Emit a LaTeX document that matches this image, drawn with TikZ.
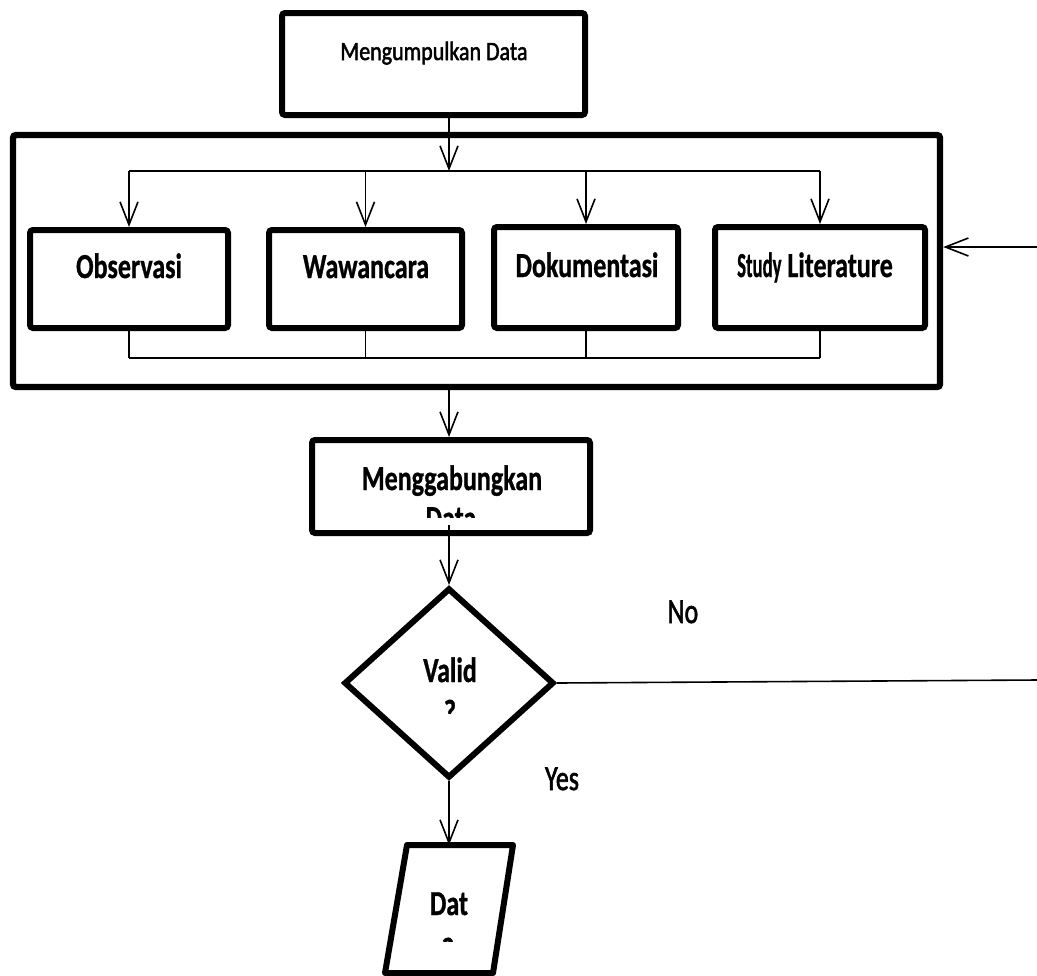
\documentclass[tikz,border=0pt]{standalone}
\usepackage{fontspec}
\setmainfont{Carlito}[BoldFeatures={FakeBold=1}]
\newfontfamily\medfont{Carlito}[FakeBold=2]
\usepackage{graphicx}
\usetikzlibrary{arrows.meta,fit,shapes.geometric}
\newcommand{\tallb}[1]{\scalebox{1}[1.35]{#1}}
\tikzset{
  box/.style={draw, line width=3pt, rounded corners=1.5pt, inner sep=0pt},
  lbl/.style={font=\bfseries\fontsize{13}{15}\selectfont, inner sep=0pt, anchor=base},
  plain/.style={font=\medfont\fontsize{13}{15}\selectfont, inner sep=0pt, anchor=base},
  ln/.style={line width=0.8pt},
  arr/.style={line width=0.8pt, -{Straight Barb[length=11.5pt,width=9pt,line width=0.8pt]}},
}
\begin{document}
\begin{tikzpicture}[x=0.5pt,y=-0.5pt]
\useasboundingbox (0,0) rectangle (1037,975);
% boxes
\node[box, fit={(282,13)(585,115)}] (collect) {};
\node[box, line width=3.2pt, fit={(13,135)(940,387)}] (big) {};
\node[box, fit={(30,230)(228,328)}] (obs) {};
\node[box, fit={(269,230)(462,328)}] (wawa) {};
\node[box, fit={(494,227)(678,328)}] (doku) {};
\node[box, fit={(715,227)(925,328)}] (study) {};
\node[box, fit={(312,440)(590,533)}] (merge) {};
\node[draw, diamond, line width=3pt, inner sep=0pt, minimum width=105pt, minimum height=95pt] (dia) at (449,683) {};
% parallelogram
\coordinate (p1) at (407,845);
\coordinate (p2) at (513,845);
\coordinate (p3) at (493,973);
\coordinate (p4) at (385,973);
\coordinate (ptop) at (449,845);
\draw[line width=3pt, line join=round] (p1) -- (p2) -- (p3) -- (p4) -- cycle;
% texts
\node[font=\medfont\fontsize{11}{13}\selectfont, inner sep=0pt, anchor=base] (tcollect) at (434,60) {\scalebox{1}[1.2]{Mengumpulkan Data}};
\node[lbl] (tobs) at (129,278) {\tallb{Observasi}};
\node[lbl] (twawa) at (366,278) {\tallb{Wawancara}};
\node[lbl] (tdoku) at (587,277) {\tallb{Dokumentasi}};
\node[lbl] (tstudy) at (815,277) {\scalebox{0.72}[1.35]{Study} \tallb{Literature}};
\node[lbl] (tmerge) at (452,490) {\tallb{Menggabungkan}};
\begin{scope}
\clip (300,500) rectangle (600,517);
\node[lbl] (tmerge2) at (451,530) {\tallb{Data}};
\end{scope}
\node[lbl] (tvalid) at (450,682) {\tallb{Valid}};
\begin{scope}
\clip (400,698) rectangle (500,713);
\node[lbl] (tq) at (450,724) {\tallb{?}};
\end{scope}
\node[plain] (tno) at (683,623) {\tallb{No}};
\node[plain] (tyes) at (562,790) {\tallb{Yes}};
\node[lbl] (tdat) at (449,915) {\tallb{Dat}};
\begin{scope}
\clip (400,934) rectangle (500,941);
\node[lbl] (tdat2) at (448,955) {\tallb{a}};
\end{scope}
% connectors
\coordinate (d0) at (449,171);
\coordinate (c0) at (449,358);
\draw[arr] (collect.south -| d0) -- (d0);
\draw[ln] (obs.north |- d0) -- (study.north |- d0);
\draw[arr] (obs.north |- d0) -- (obs.north);
\draw[arr] (wawa.north |- d0) -- (wawa.north);
\draw[arr] (doku.north |- d0) -- (doku.north);
\draw[arr] (study.north |- d0) -- (study.north);
\draw[ln] (obs.south) -- (obs.south |- c0);
\draw[ln] (wawa.south) -- (wawa.south |- c0);
\draw[ln] (doku.south) -- (doku.south |- c0);
\draw[ln] (study.south) -- (study.south |- c0);
\draw[ln] (obs.south |- c0) -- (study.south |- c0);
\draw[arr] (big.south -| d0) -- (merge.north -| d0);
\coordinate (m1) at (449,525);
\draw[arr] (m1) -- (dia.north);
\coordinate (r0) at (1037,247);
\draw[arr] (r0) -- (big.east |- r0);
\coordinate (r1) at (1037,680);
\draw[ln] (dia.east) -- (r1);
\draw[arr] (dia.south) -- (ptop);
\end{tikzpicture}
\end{document}
